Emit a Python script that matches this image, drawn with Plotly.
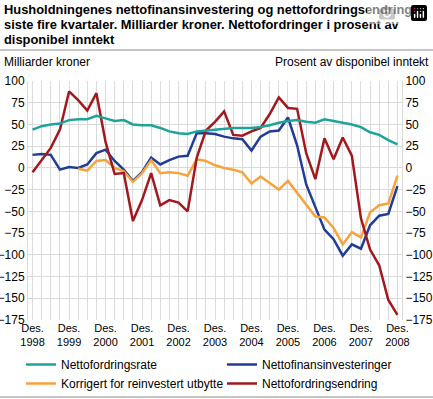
import plotly.graph_objects as go

years = list(range(1998, 2009))
quarters = ["1998K4"] + [f"{y}K{q}" for y in range(1999, 2009) for q in (1, 2, 3, 4)]
tick_labels = [f"Des.<br>{y}" for y in years]

nettofordringsrate = [44, 48, 50, 51, 55, 56, 56, 60, 57, 54, 55, 50, 49, 49, 46, 42, 40, 39, 42, 43,
                      44, 45, 46, 46, 46, 47, 49, 52, 54, 55, 53, 52, 56, 54, 52, 50, 47, 41, 38, 32, 27]
nettofinansinvesteringer = [15, 16, 15, -2, 1, 0, 4, 17, 21, 8, -2, -15, -5, 12, 4, 9, 13, 14, 40, 40,
                            39, 36, 34, 33, 20, 36, 42, 43, 58, 26, -19, -46, -71, -82, -101, -88, -93, -66, -55, -53, -21]
korrigert = [None, None, None, None, None, -1, -3, 8, 9, 0, -4, -16, -6, 9, -6, -5, -6, -9, 10, 8,
             3, 0, -2, -5, -18, -10, -17, -25, -15, -29, -42, -56, -57, -69, -88, -74, -80, -51, -43, -41, -9]
nettofordringsendring = [-5, 9, 23, 44, 88, 78, 66, 86, 30, -7, -6, -61, -37, -6, -43, -37, -40, -50, 12, 43,
                         53, 65, 38, 37, 42, 46, 62, 81, 69, 68, 17, -13, 34, 10, 35, 14, -58, -94, -112, -152, -169]

y_ticks = [100, 75, 50, 25, 0, -25, -50, -75, -100, -125, -150, -175]

W, H = 433, 399
L, R, T, B = 28, 402, 81, 320

def px(x):
    return (x - L) / (R - L)

def py(y):
    return (B - y) / (B - T)

fig = go.Figure()
fig.add_trace(go.Scatter(x=quarters, y=nettofordringsrate, name="Nettofordringsrate", mode="lines",
                         line=dict(color="#1ea39b", width=2.5), yaxis="y2", legend="legend"))
fig.add_trace(go.Scatter(x=quarters, y=nettofinansinvesteringer, name="Nettofinansinvesteringer", mode="lines",
                         line=dict(color="#1f3c97", width=2.5), legend="legend2"))
fig.add_trace(go.Scatter(x=quarters, y=korrigert, name="Korrigert for reinvestert utbytte", mode="lines",
                         line=dict(color="#f8a23c", width=2.5), legend="legend"))
fig.add_trace(go.Scatter(x=quarters, y=nettofordringsendring, name="Nettofordringsendring", mode="lines",
                         line=dict(color="#a1191f", width=2.5), legend="legend2"))

font = "Liberation Sans, Arial, sans-serif"
grid = "#dadada"

leg_common = dict(orientation="v", xanchor="left", yanchor="top",
                  font=dict(size=12, family=font, color="#000"),
                  itemwidth=30, tracegroupgap=0, bgcolor="rgba(0,0,0,0)", borderwidth=0,
                  traceorder="normal")

fig.update_layout(
    width=W, height=H, autosize=False,
    margin=dict(l=L, r=W - R, t=T, b=H - B, pad=0, autoexpand=False),
    paper_bgcolor="white", plot_bgcolor="white",
    font=dict(family=font, size=12, color="#000"),
    showlegend=True,
    legend=dict(x=px(21), y=py(350), **leg_common),
    legend2=dict(x=px(222), y=py(350), **leg_common),
    xaxis=dict(type="category", range=[-0.5, 40.5], tickmode="array",
               tickvals=quarters, ticktext=[tick_labels[(i) // 4] if i % 4 == 0 else "" for i in range(len(quarters))],
               showgrid=True, gridcolor=grid, gridwidth=1, zeroline=False, ticks="",
               tickfont=dict(size=11), tickangle=0, showline=False, fixedrange=True),
    yaxis=dict(range=[-175, 100], tickvals=y_ticks, showgrid=True, gridcolor=grid, gridwidth=1,
               zeroline=False, ticks="", tickfont=dict(size=12), showline=True, linecolor=grid,
               side="left", fixedrange=True),
    yaxis2=dict(range=[-175, 100], tickvals=y_ticks, showgrid=False, zeroline=False, ticks="",
                tickfont=dict(size=12), overlaying="y", side="right", showline=True, linecolor=grid,
                fixedrange=True),
)

# title lines
title_lines = ["Husholdningenes nettofinansinvestering og nettofordringsendring",
               "siste fire kvartaler. Milliarder kroner. Nettofordringer i prosent av",
               "disponibel inntekt"]
for line, yc in zip(title_lines, [9, 24.5, 39.5]):
    fig.add_annotation(text=f"<b>{line}</b>", xref="paper", yref="paper", x=px(2), y=py(yc),
                       xanchor="left", yanchor="middle", showarrow=False,
                       font=dict(size=12.9, family=font, color="#000"))

fig.add_annotation(text="Milliarder kroner", xref="paper", yref="paper", x=px(2), y=py(62),
                   xanchor="left", yanchor="middle", showarrow=False, font=dict(size=12, family=font))
fig.add_annotation(text="Prosent av disponibel inntekt", xref="paper", yref="paper", x=px(431),
                   y=py(62), xanchor="right", yanchor="middle", showarrow=False, font=dict(size=12, family=font))

for yline in (50, 397):
    fig.add_shape(type="line", xref="paper", yref="paper", x0=px(0), x1=px(433),
                  y0=py(yline), y1=py(yline), line=dict(color="#c6c6c6", width=2))

fig.write_html("out.html", post_script="document.body.style.margin='0';")
